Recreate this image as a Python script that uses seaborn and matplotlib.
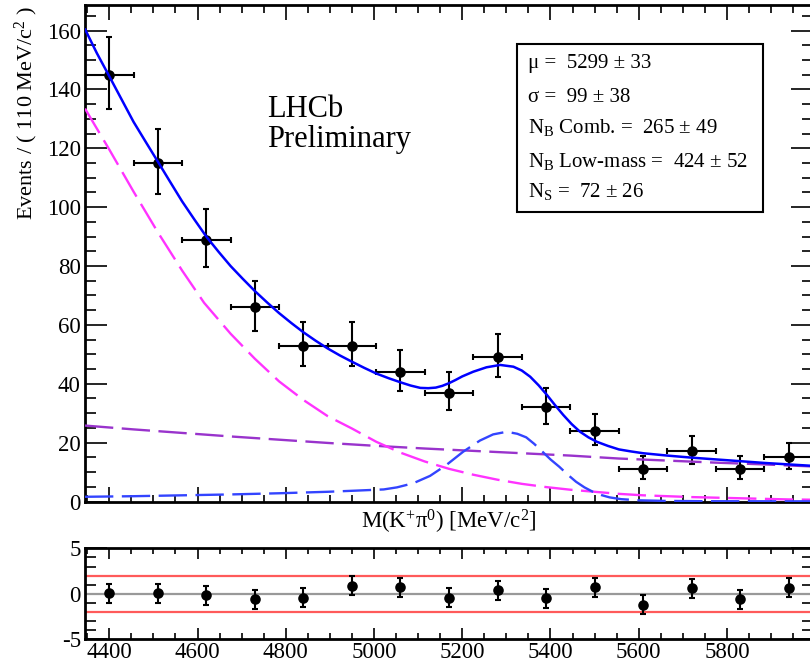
import numpy as np
import pandas as pd
import matplotlib
matplotlib.use("Agg")
import matplotlib.pyplot as plt
import seaborn as sns
from matplotlib.patches import Rectangle
from matplotlib.ticker import MultipleLocator

# ---------------- data ----------------
BIN_WIDTH = 110
bin_centers = [4400, 4510, 4620, 4730, 4840, 4950, 5060, 5170, 5280, 5390,
               5500, 5610, 5720, 5830, 5940]
events = [145, 115, 89, 66, 53, 53, 44, 37, 49, 32, 24, 11, 17, 11, 15]
err_low = [11.7, 10.4, 9.3, 8.0, 7.1, 7.1, 6.5, 5.9, 6.8, 5.5, 4.8, 3.4, 4.1, 3.4, 3.8]
err_high = [12.8, 11.4, 10.3, 9.0, 8.1, 8.1, 7.5, 7.0, 7.8, 6.7, 5.9, 4.5, 5.3, 4.5, 5.0]

pulls = [0.07, 0.07, -0.15, -0.62, -0.44, 0.88, 0.70, -0.44, 0.37, -0.51,
         0.73, -1.21, 0.62, -0.59, 0.66]
pull_err = [1.05] * 15

total_m = [4345, 4372, 4400, 4428, 4455, 4483, 4510, 4538, 4565, 4593, 4620,
           4648, 4675, 4703, 4730, 4758, 4785, 4813, 4840, 4868, 4895, 4923,
           4950, 4978, 5005, 5033, 5060, 5083, 5105, 5123, 5140, 5155, 5170,
           5185, 5200, 5225, 5255, 5286, 5316, 5335, 5354, 5373, 5392, 5410,
           5429, 5448, 5467, 5486, 5505, 5530, 5555, 5583, 5610, 5665, 5720,
           5775, 5830, 5885, 5940, 5995]
total_v = [160.5, 152.3, 144.5, 136.6, 129.0, 122.1, 115.5, 108.6, 102.0, 95.8,
           90.0, 84.8, 80.0, 75.6, 71.5, 67.6, 64.0, 60.6, 57.5, 54.6, 52.0,
           49.6, 47.5, 45.4, 43.5, 41.9, 40.5, 39.4, 38.6, 38.5, 38.7, 39.3, 40.2,
           41.3, 42.5, 44.1, 45.6, 46.4, 45.8, 44.5, 42.4, 39.5, 36.2, 32.8,
           29.4, 26.3, 23.7, 21.8, 20.3, 18.9, 17.7, 17.0, 16.4, 15.6, 14.9,
           14.3, 13.7, 13.1, 12.6, 12.1]

comb_m = [4345, 4455, 4565, 4675, 4785, 4895, 5005, 5115, 5225, 5335, 5445,
          5555, 5665, 5775, 5885, 5995]
comb_v = [25.8, 24.5, 23.3, 22.1, 21.0, 19.9, 18.9, 18.0, 17.2, 16.4, 15.6,
          14.6, 13.9, 13.2, 12.6, 11.9]

low_m = [4345, 4400, 4455, 4510, 4565, 4615, 4675, 4730, 4785, 4840, 4895,
         4950, 5005, 5060, 5115, 5170, 5225, 5280, 5335, 5390, 5445, 5500,
         5555, 5610, 5665, 5720, 5775, 5830, 5885, 5940, 5995]
low_v = [133.5, 119.6, 105.3, 91.5, 78.5, 67.5, 57.0, 48.5, 40.8, 34.5, 29.0,
         24.8, 20.3, 16.6, 13.6, 11.1, 9.1, 7.4, 6.0, 4.9, 4.0, 3.3, 2.6, 2.1,
         1.8, 1.5, 1.3, 1.1, 0.9, 0.7, 0.6]

sig_m = [4345, 4455, 4565, 4675, 4785, 4895, 4960, 5022, 5052, 5089, 5127,
         5164, 5202, 5240, 5270, 5301, 5325, 5345, 5363, 5382, 5400, 5420,
         5440, 5458, 5477, 5496, 5515, 5534, 5560, 5600, 5660, 5750, 5995]
sig_v = [1.6, 1.8, 2.1, 2.4, 2.8, 3.3, 3.7, 4.1, 4.8, 6.2, 8.7, 12.4, 16.9,
         20.7, 22.8, 23.7, 23.0, 21.8, 19.6, 16.9, 14.3, 11.8, 9.0, 6.7, 4.8,
         3.3, 2.2, 1.4, 0.8, 0.4, 0.2, 0.1, 0.05]

x_range = (4345, 5995)
fit_lines = [
    "μ =  5299 ± 33",
    "σ =  99 ± 38",
    r"N$_{\rm B}$ Comb. =  265 ± 49",
    r"N$_{\rm B}$ Low-mass =  424 ± 52",
    r"N$_{\rm S}$ =  72 ± 26",
]

# ---------------- style ----------------
sns.set_theme(style="ticks")
plt.rcParams["font.family"] = ["Liberation Serif", "DejaVu Serif"]
plt.rcParams["mathtext.fontset"] = "custom"
plt.rcParams["mathtext.rm"] = "Liberation Serif"
plt.rcParams["mathtext.it"] = "Liberation Serif:italic"
plt.rcParams["mathtext.bf"] = "Liberation Serif:bold"
plt.rcParams["axes.unicode_minus"] = False

W, H = 810, 666
fig = plt.figure(figsize=(W / 100, H / 100), dpi=100)
fig.patch.set_facecolor("white")

L, R = 85, 813
ax = fig.add_axes([L / W, 1 - 501.5 / H, (R - L) / W, (501.5 - 5) / H])
axp = fig.add_axes([L / W, 1 - 639.3 / H, (R - L) / W, (639.3 - 548.3) / H])

dash = (0, (12, 3.6))
LW = 1.7

# data points
ax.errorbar(bin_centers, events, yerr=[err_low, err_high], xerr=BIN_WIDTH / 2,
            fmt="none", ecolor="black", elinewidth=1.5, capsize=2.2,
            capthick=1.5, zorder=3)
sns.scatterplot(x=bin_centers, y=events, ax=ax, color="black", s=58,
                edgecolor="black", linewidth=0, zorder=4)

# fit curves
sns.lineplot(x=comb_m, y=comb_v, ax=ax, color="#9933CC", linewidth=LW,
             linestyle=dash, estimator=None, zorder=5)
sns.lineplot(x=low_m, y=low_v, ax=ax, color="#FF33FF", linewidth=LW,
             linestyle=dash, estimator=None, zorder=5)
sns.lineplot(x=sig_m, y=sig_v, ax=ax, color="#3344FF", linewidth=LW,
             linestyle=dash, estimator=None, zorder=5)
sns.lineplot(x=total_m, y=total_v, ax=ax, color="#0000FF", linewidth=1.8,
             estimator=None, zorder=6)

ax.set_xlim(*x_range)
ax.set_ylim(0, 168.7)
ax.xaxis.set_major_locator(MultipleLocator(200))
ax.xaxis.set_minor_locator(MultipleLocator(50))
ax.yaxis.set_major_locator(MultipleLocator(20))
ax.yaxis.set_minor_locator(MultipleLocator(5))
ax.set_xticklabels([])
ax.set_xlabel("")
ax.set_ylabel("")
ax.tick_params(axis="both", which="both", direction="in", top=True,
               right=True, color="black", width=1.2, labelsize=16.5,
               labelcolor="black")
ax.tick_params(axis="y", which="major", length=15.8, pad=3)
ax.tick_params(axis="y", which="minor", length=8)
ax.tick_params(axis="x", which="major", length=10.8)
ax.tick_params(axis="x", which="minor", length=5.4)
for sp in ax.spines.values():
    sp.set_visible(True)
    sp.set_linewidth(2.0)
    sp.set_color("black")

# pull panel
axp.axhline(0, color="#999999", linewidth=1.6, zorder=1)
axp.axhline(2, color="#FF5A5A", linewidth=1.6, zorder=1)
axp.axhline(-2, color="#FF5A5A", linewidth=1.6, zorder=1)
axp.errorbar(bin_centers, pulls, yerr=pull_err, fmt="none", ecolor="black",
             elinewidth=1.5, capsize=2.2, capthick=1.5, zorder=3)
sns.scatterplot(x=bin_centers, y=pulls, ax=axp, color="black", s=58,
                edgecolor="black", linewidth=0, zorder=4)
axp.set_xlim(*x_range)
axp.set_ylim(-5, 5)
axp.xaxis.set_major_locator(MultipleLocator(200))
axp.xaxis.set_minor_locator(MultipleLocator(50))
axp.yaxis.set_major_locator(MultipleLocator(5))
axp.yaxis.set_minor_locator(MultipleLocator(1))
axp.set_xlabel("")
axp.set_ylabel("")
axp.tick_params(axis="both", which="both", direction="in", top=True,
                right=True, color="black", width=1.2, labelsize=16.5,
                labelcolor="black")
axp.tick_params(axis="y", which="major", length=15.8, pad=3)
axp.tick_params(axis="y", which="minor", length=8)
axp.tick_params(axis="x", which="major", length=8, pad=2)
axp.tick_params(axis="x", which="minor", length=4)
for sp in axp.spines.values():
    sp.set_visible(True)
    sp.set_linewidth(2.0)
    sp.set_color("black")

# titles
fig.text(449 / W, 1 - 522 / H, r"M(K$^{+}$π$^{0}$) [MeV/c$^{2}$]",
         ha="center", va="center", fontsize=16.5, color="black")
fig.text(26 / W, 1 - 6 / H, r"Events / ( 110 MeV/c$^{2}$ )", rotation=90,
         ha="center", va="top", fontsize=16, color="black")

fig.text(267 / W, 1 - 117 / H, "LHCb", ha="left", va="baseline",
         fontsize=22, color="black")
fig.text(267 / W, 1 - 147 / H, "Preliminary", ha="left", va="baseline",
         fontsize=22, color="black")

# fit results box
bx0, by0, bx1, by1 = 516.7, 44, 762.7, 211.7
fig.patches.append(Rectangle((bx0 / W, 1 - by1 / H), (bx1 - bx0) / W,
                             (by1 - by0) / H, transform=fig.transFigure,
                             facecolor="white", edgecolor="black",
                             linewidth=1.5, zorder=10))
baselines = [68.3, 101.7, 133.3, 166.7, 196.7]
for txt, b in zip(fit_lines, baselines):
    fig.text(528 / W, 1 - b / H, txt, ha="left", va="baseline", fontsize=15,
             color="black", zorder=11)

fig.savefig("out.png", dpi=100, facecolor="white")
